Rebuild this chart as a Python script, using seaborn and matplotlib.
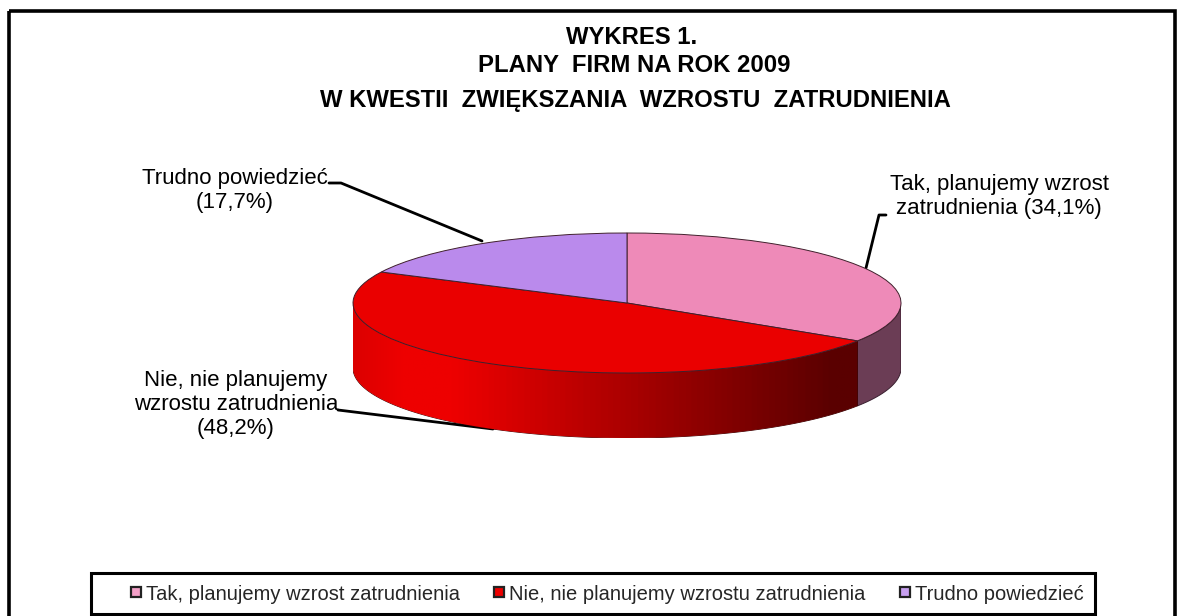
import numpy as np
import matplotlib
matplotlib.use('Agg')
import matplotlib.pyplot as plt
from matplotlib.lines import Line2D
from matplotlib.patches import Polygon, Rectangle
import seaborn as sns

# Data
categories = ['Tak, planujemy wzrost zatrudnienia', 'Nie, nie planujemy wzrostu zatrudnienia', 'Trudno powiedzieć']
shares = [34.1, 48.2, 17.7]
top_colors = ['#ee8ab8', '#ea0000', '#ba8aec']
side_color_tak = '#6b3d55'
title_lines = ['WYKRES 1.', 'PLANY  FIRM NA ROK 2009', 'W KWESTII  ZWIĘKSZANIA  WZROSTU  ZATRUDNIENIA']

sns.set_theme(style='white')
plt.rcParams['font.family'] = ['Liberation Sans', 'DejaVu Sans']

W, H = 1184, 616
fig = plt.figure(figsize=(W / 100, H / 100), dpi=100)

# Background axes in pixels, for the frame, text and leader lines
bg = fig.add_axes([0, 0, 1, 1])
bg.set_xlim(0, W)
bg.set_ylim(H, 0)
bg.axis('off')
bg.add_patch(Rectangle((9, 11), 1166, 620, fill=False, edgecolor='black', linewidth=2.6))
bg.add_patch(Rectangle((91, 573), 1004, 41, facecolor='white', edgecolor='black', linewidth=2.2))

for x, y, line in zip([632, 634, 635], [38, 66, 101], title_lines):
    bg.text(x, y, line, ha='center', va='center', fontsize=17.2, fontweight='bold', color='black')

bg.text(235, 190.5, 'Trudno powiedzieć\n(17,7%)', ha='center', va='center', fontsize=16, linespacing=1.2, color='black')
bg.text(999, 196.5, 'Tak, planujemy wzrost\nzatrudnienia (34,1%)', ha='center', va='center', fontsize=16, linespacing=1.2, color='black')
bg.text(236, 404.5, 'Nie, nie planujemy\nwzrostu zatrudnienia\n(48,2%)', ha='center', va='center', fontsize=16, linespacing=1.2, color='black')

bg.plot([329, 341, 482], [183, 183, 241], color='black', lw=2)
bg.plot([886, 879, 866], [215, 215, 268], color='black', lw=2)
bg.plot([338, 493], [410, 429], color='black', lw=2)

# Pie axes: ellipse is 548 px wide, 140 px high, extruded by 65 px
left, right, top, mid, bottom = 353, 901, 233, 373, 438
depth = (bottom - mid) / ((mid - top) / 2)
ax = fig.add_axes([left / W, 1 - bottom / H, (right - left) / W, (bottom - top) / H])
ax.patch.set_alpha(0)


def side_polygon(a1, a2):
    t = np.radians(np.linspace(a1, a2, 200))
    x, y = np.cos(t), np.sin(t)
    return np.r_[np.c_[x, y], np.c_[x[::-1], y[::-1] - depth]]


# Clockwise from 12 o'clock, as in the original
cuts = 90 - np.cumsum(shares) * 3.6

ax.add_patch(Polygon(side_polygon(0, cuts[0]), facecolor=side_color_tak, edgecolor='#3a2030', linewidth=0.7))

front = Polygon(side_polygon(cuts[0], -180), facecolor='none', edgecolor='#300000', linewidth=0.6)
ax.add_patch(front)
cmap = sns.blend_palette(['#dc0000', '#ee0000', '#ee0000', '#5a0000', '#5a0000'], as_cmap=True)
gradient = np.array([[0, 0.09, 0.18, 0.88, 1.0]])
xs = np.linspace(0, 1, 400)
img = ax.imshow(np.interp(xs, gradient[0], [0, 0.25, 0.5, 0.75, 1.0])[None, :], cmap=cmap, vmin=0, vmax=1,
                extent=(-1, 1, -1 - depth, 1), aspect='auto', zorder=1)
img.set_clip_path(front)

wedges, _ = ax.pie(shares, colors=top_colors, startangle=90, counterclock=False, radius=1,
                   wedgeprops={'edgecolor': '#40202c', 'linewidth': 0.7, 'zorder': 2})
ax.set_aspect('auto')
ax.set_xlim(-1, 1)
ax.set_ylim(-1 - depth, 1)
ax.axis('off')

# Legend
handles = [Line2D([], [], linestyle='none', marker='s', markersize=6.5, markerfacecolor=c,
                  markeredgecolor='#222222', markeredgewidth=1.6) for c in ['#f4a0c8', '#ee0000', '#c8a0f0']]
leg = bg.legend(handles, categories, ncol=3, loc='center left',
                bbox_to_anchor=(124 / W, 1 - 594 / H), bbox_transform=fig.transFigure,
                fontsize=14.5, frameon=False,
                handletextpad=-0.1, columnspacing=1.35, borderaxespad=0, borderpad=0, handlelength=1.2)
leg.set_zorder(5)

fig.savefig('out.png', dpi=100)
